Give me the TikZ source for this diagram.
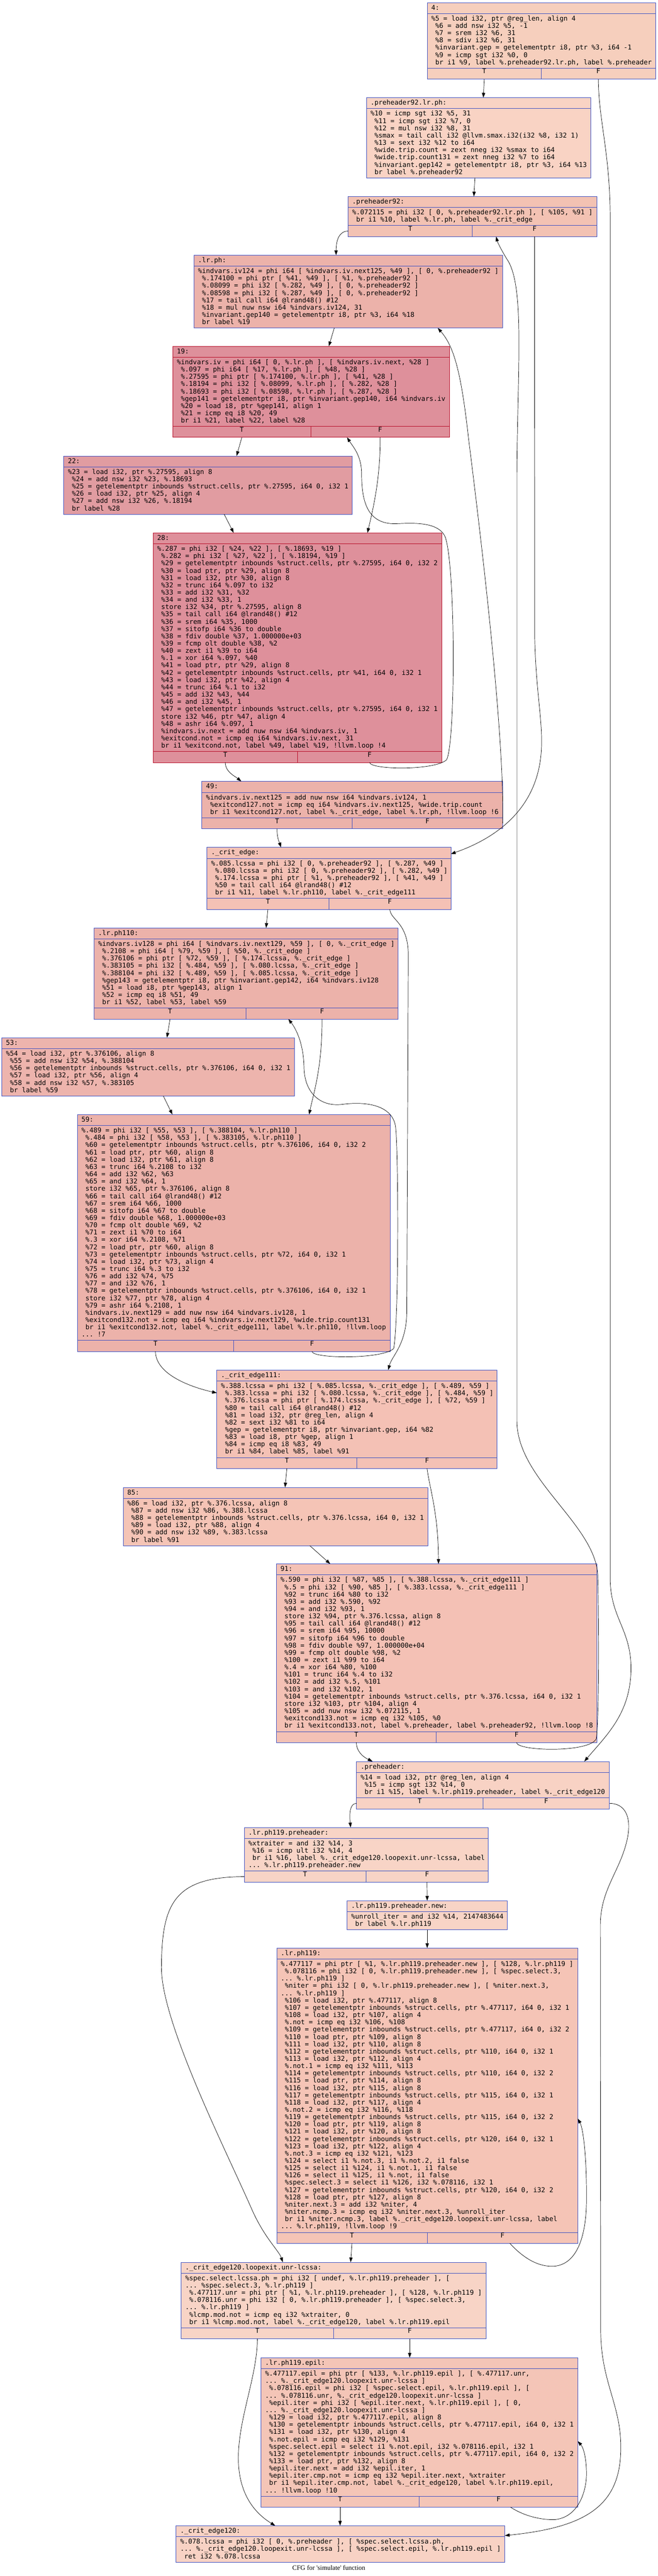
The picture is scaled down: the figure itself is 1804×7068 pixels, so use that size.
\documentclass[tikz,border=0pt]{standalone}
\usepackage{fontspec}
\newfontfamily\cfgmono{DejaVu Sans Mono}
\newfontfamily\cfgserif{Liberation Serif}
\usetikzlibrary{fit,calc,arrows.meta}

\newcommand{\cfgtab}[1]{\begin{tabular}[t]{@{}l@{}}#1\end{tabular}}

\definecolor{bl}{HTML}{3D50C3}
\definecolor{rd}{HTML}{B70D28}
\definecolor{cfour}{HTML}{F6CFBD}
\definecolor{cpretwo}{HTML}{F9D3C4}
\definecolor{cninetwo}{HTML}{F3C2B3}
\definecolor{clrph}{HTML}{ECB2AA}
\definecolor{chot}{HTML}{DE909B}
\definecolor{ctwotwo}{HTML}{E19CA1}
\definecolor{cedge}{HTML}{F4C1B5}
\definecolor{cfivethree}{HTML}{EDB4AD}
\definecolor{cfiveeight}{HTML}{F5C4B6}
\definecolor{cpre}{HTML}{F8D2C4}
\definecolor{clight}{HTML}{F8D4C6}
\definecolor{cepil}{HTML}{F4C5B7}

\begin{document}
\begin{tikzpicture}[
  x=0.5pt, y=-0.5pt,
  blk/.style={draw=bl, line width=0.6pt, inner sep=0pt, outer sep=0pt},
  hot/.style={draw=rd},
  hline/.style={draw=bl, line width=0.6pt},
  cell/.style={draw=bl, line width=0.6pt, inner sep=0pt, outer sep=0pt, font=\cfgmono\fontsize{9.13}{10}\selectfont},
  hd/.style={anchor=base west, inner sep=0pt, font=\cfgmono\fontsize{9.13}{10}\selectfont},
  code/.style={anchor=base west, inner sep=0pt, font=\cfgmono\fontsize{9.13}{10}\selectfont\frenchspacing},
  flow/.style={draw, line width=0.5pt, -{Triangle[length=6.5pt,width=4.5pt]}},
  ttl/.style={anchor=base, inner sep=0pt, font=\cfgserif\fontsize{9.13}{10}\selectfont}
]

\fill[white] (0,0) rectangle (1804,7068);

% Block 4
\node[blk, fill=cfour, fit={(1172,7) (1798,217)}] (b4) {};
\draw[hline] (1172,37) -- (1798,37);
\node[hd] (b4h) at (1183,27) {4:};
\node[code] (b4c) at (1183,57) {\cfgtab{\%5 = load i32, ptr @reg\_len, align 4\\
~\%6 = add nsw i32 \%5, -1\\
~\%7 = srem i32 \%6, 31\\
~\%8 = sdiv i32 \%6, 31\\
~\%invariant.gep = getelementptr i8, ptr \%3, i64 -1\\
~\%9 = icmp sgt i32 \%0, 0\\
~br i1 \%9, label \%.preheader92.lr.ph, label \%.preheader}};
\node[cell, fit={(1172,187) (1485,217)}] (b4t) {T};
\node[cell, fit={(1485,187) (1798,217)}] (b4f) {F};

% Block .preheader92.lr.ph
\node[blk, fill=cpretwo, fit={(1005,268) (1621,488)}] (b92lr) {};
\draw[hline] (1005,298) -- (1621,298);
\node[hd] (b92lrh) at (1016,288) {.preheader92.lr.ph:};
\node[code] (b92lrc) at (1016,318) {\cfgtab{\%10 = icmp sgt i32 \%5, 31\\
~\%11 = icmp sgt i32 \%7, 0\\
~\%12 = mul nsw i32 \%8, 31\\
~\%smax = tail call i32 @llvm.smax.i32(i32 \%8, i32 1)\\
~\%13 = sext i32 \%12 to i64\\
~\%wide.trip.count = zext nneg i32 \%smax to i64\\
~\%wide.trip.count131 = zext nneg i32 \%7 to i64\\
~\%invariant.gep142 = getelementptr i8, ptr \%3, i64 \%13\\
~br label \%.preheader92}};

% Block .preheader92
\node[blk, fill=cninetwo, fit={(955,539) (1637,649)}] (b92) {};
\draw[hline] (955,569) -- (1637,569);
\node[hd] (b92h) at (966,559) {.preheader92:};
\node[code] (b92c) at (966,589) {\cfgtab{\%.072115 = phi i32 [ 0, \%.preheader92.lr.ph ], [ \%105, \%91 ]\\
~br i1 \%10, label \%.lr.ph, label \%.\_crit\_edge}};
\node[cell, fit={(955,619) (1296,649)}] (b92t) {T};
\node[cell, fit={(1296,619) (1637,649)}] (b92f) {F};

% Block .lr.ph
\node[blk, fill=clrph, fit={(532,700) (1379,900)}] (blrph) {};
\draw[hline] (532,730) -- (1379,730);
\node[hd] (blrphh) at (543,720) {.lr.ph:};
\node[code] (blrphc) at (543,750) {\cfgtab{\%indvars.iv124 = phi i64 [ \%indvars.iv.next125, \%49 ], [ 0, \%.preheader92 ]\\
~\%.174100 = phi ptr [ \%41, \%49 ], [ \%1, \%.preheader92 ]\\
~\%.08099 = phi i32 [ \%.282, \%49 ], [ 0, \%.preheader92 ]\\
~\%.08598 = phi i32 [ \%.287, \%49 ], [ 0, \%.preheader92 ]\\
~\%17 = tail call i64 @lrand48() \#12\\
~\%18 = mul nuw nsw i64 \%indvars.iv124, 31\\
~\%invariant.gep140 = getelementptr i8, ptr \%3, i64 \%18\\
~br label \%19}};

% Block 19
\node[blk, hot, fill=chot, fit={(474,950) (1233,1200)}] (b19) {};
\draw[hline, hot] (474,980) -- (1233,980);
\node[hd] (b19h) at (485,970) {19:};
\node[code] (b19c) at (485,1000) {\cfgtab{\%indvars.iv = phi i64 [ 0, \%.lr.ph ], [ \%indvars.iv.next, \%28 ]\\
~\%.097 = phi i64 [ \%17, \%.lr.ph ], [ \%48, \%28 ]\\
~\%.27595 = phi ptr [ \%.174100, \%.lr.ph ], [ \%41, \%28 ]\\
~\%.18194 = phi i32 [ \%.08099, \%.lr.ph ], [ \%.282, \%28 ]\\
~\%.18693 = phi i32 [ \%.08598, \%.lr.ph ], [ \%.287, \%28 ]\\
~\%gep141 = getelementptr i8, ptr \%invariant.gep140, i64 \%indvars.iv\\
~\%20 = load i8, ptr \%gep141, align 1\\
~\%21 = icmp eq i8 \%20, 49\\
~br i1 \%21, label \%22, label \%28}};
\node[cell, hot, fit={(474,1170) (853,1200)}] (b19t) {T};
\node[cell, hot, fit={(853,1170) (1233,1200)}] (b19f) {F};

% Block 22
\node[blk, fill=ctwotwo, fit={(175,1251) (966,1411)}] (b22) {};
\draw[hline] (175,1281) -- (966,1281);
\node[hd] (b22h) at (186,1271) {22:};
\node[code] (b22c) at (186,1301) {\cfgtab{\%23 = load i32, ptr \%.27595, align 8\\
~\%24 = add nsw i32 \%23, \%.18693\\
~\%25 = getelementptr inbounds \%struct.cells, ptr \%.27595, i64 0, i32 1\\
~\%26 = load i32, ptr \%25, align 4\\
~\%27 = add nsw i32 \%26, \%.18194\\
~br label \%28}};

% Block 28
\node[blk, hot, fill=chot, fit={(420,1462) (1212,2092)}] (b28) {};
\draw[hline, hot] (420,1492) -- (1212,1492);
\node[hd] (b28h) at (431,1482) {28:};
\node[code] (b28c) at (431,1512) {\cfgtab{\%.287 = phi i32 [ \%24, \%22 ], [ \%.18693, \%19 ]\\
~\%.282 = phi i32 [ \%27, \%22 ], [ \%.18194, \%19 ]\\
~\%29 = getelementptr inbounds \%struct.cells, ptr \%.27595, i64 0, i32 2\\
~\%30 = load ptr, ptr \%29, align 8\\
~\%31 = load i32, ptr \%30, align 8\\
~\%32 = trunc i64 \%.097 to i32\\
~\%33 = add i32 \%31, \%32\\
~\%34 = and i32 \%33, 1\\
~store i32 \%34, ptr \%.27595, align 8\\
~\%35 = tail call i64 @lrand48() \#12\\
~\%36 = srem i64 \%35, 1000\\
~\%37 = sitofp i64 \%36 to double\\
~\%38 = fdiv double \%37, 1.000000e+03\\
~\%39 = fcmp olt double \%38, \%2\\
~\%40 = zext i1 \%39 to i64\\
~\%.1 = xor i64 \%.097, \%40\\
~\%41 = load ptr, ptr \%29, align 8\\
~\%42 = getelementptr inbounds \%struct.cells, ptr \%41, i64 0, i32 1\\
~\%43 = load i32, ptr \%42, align 4\\
~\%44 = trunc i64 \%.1 to i32\\
~\%45 = add i32 \%43, \%44\\
~\%46 = and i32 \%45, 1\\
~\%47 = getelementptr inbounds \%struct.cells, ptr \%.27595, i64 0, i32 1\\
~store i32 \%46, ptr \%47, align 4\\
~\%48 = ashr i64 \%.097, 1\\
~\%indvars.iv.next = add nuw nsw i64 \%indvars.iv, 1\\
~\%exitcond.not = icmp eq i64 \%indvars.iv.next, 31\\
~br i1 \%exitcond.not, label \%49, label \%19, !llvm.loop !4}};
\node[cell, hot, fit={(420,2062) (816,2092)}] (b28t) {T};
\node[cell, hot, fit={(816,2062) (1212,2092)}] (b28f) {F};

% Block 49
\node[blk, fill=clrph, fit={(554,2144) (1379,2274)}] (b49) {};
\draw[hline] (554,2174) -- (1379,2174);
\node[hd] (b49h) at (565,2164) {49:};
\node[code] (b49c) at (565,2194) {\cfgtab{\%indvars.iv.next125 = add nuw nsw i64 \%indvars.iv124, 1\\
~\%exitcond127.not = icmp eq i64 \%indvars.iv.next125, \%wide.trip.count\\
~br i1 \%exitcond127.not, label \%.\_crit\_edge, label \%.lr.ph, !llvm.loop !6}};
\node[cell, fit={(554,2244) (966,2274)}] (b49t) {T};
\node[cell, fit={(966,2244) (1379,2274)}] (b49f) {F};

% Block ._crit_edge
\node[blk, fill=cedge, fit={(568,2325) (1237,2495)}] (bce) {};
\draw[hline] (568,2355) -- (1237,2355);
\node[hd] (bceh) at (579,2345) {.\_crit\_edge:};
\node[code] (bcec) at (579,2375) {\cfgtab{\%.085.lcssa = phi i32 [ 0, \%.preheader92 ], [ \%.287, \%49 ]\\
~\%.080.lcssa = phi i32 [ 0, \%.preheader92 ], [ \%.282, \%49 ]\\
~\%.174.lcssa = phi ptr [ \%1, \%.preheader92 ], [ \%41, \%49 ]\\
~\%50 = tail call i64 @lrand48() \#12\\
~br i1 \%11, label \%.lr.ph110, label \%.\_crit\_edge111}};
\node[cell, fit={(568,2465) (902,2495)}] (bcet) {T};
\node[cell, fit={(902,2465) (1237,2495)}] (bcef) {F};

% Block .lr.ph110
\node[blk, fill=clrph, fit={(258,2546) (1092,2796)}] (blr110) {};
\draw[hline] (258,2576) -- (1092,2576);
\node[hd] (blr110h) at (269,2566) {.lr.ph110:};
\node[code] (blr110c) at (269,2596) {\cfgtab{\%indvars.iv128 = phi i64 [ \%indvars.iv.next129, \%59 ], [ 0, \%.\_crit\_edge ]\\
~\%.2108 = phi i64 [ \%79, \%59 ], [ \%50, \%.\_crit\_edge ]\\
~\%.376106 = phi ptr [ \%72, \%59 ], [ \%.174.lcssa, \%.\_crit\_edge ]\\
~\%.383105 = phi i32 [ \%.484, \%59 ], [ \%.080.lcssa, \%.\_crit\_edge ]\\
~\%.388104 = phi i32 [ \%.489, \%59 ], [ \%.085.lcssa, \%.\_crit\_edge ]\\
~\%gep143 = getelementptr i8, ptr \%invariant.gep142, i64 \%indvars.iv128\\
~\%51 = load i8, ptr \%gep143, align 1\\
~\%52 = icmp eq i8 \%51, 49\\
~br i1 \%52, label \%53, label \%59}};
\node[cell, fit={(258,2766) (675,2796)}] (blr110t) {T};
\node[cell, fit={(675,2766) (1092,2796)}] (blr110f) {F};

% Block 53
\node[blk, fill=cfivethree, fit={(5,2847) (808,3007)}] (b53) {};
\draw[hline] (5,2877) -- (808,2877);
\node[hd] (b53h) at (16,2867) {53:};
\node[code] (b53c) at (16,2897) {\cfgtab{\%54 = load i32, ptr \%.376106, align 8\\
~\%55 = add nsw i32 \%54, \%.388104\\
~\%56 = getelementptr inbounds \%struct.cells, ptr \%.376106, i64 0, i32 1\\
~\%57 = load i32, ptr \%56, align 4\\
~\%58 = add nsw i32 \%57, \%.383105\\
~br label \%59}};

% Block 59
\node[blk, fill=clrph, fit={(212,3058) (1071,3708)}] (b59) {};
\draw[hline] (212,3088) -- (1071,3088);
\node[hd] (b59h) at (223,3078) {59:};
\node[code] (b59c) at (223,3108) {\cfgtab{\%.489 = phi i32 [ \%55, \%53 ], [ \%.388104, \%.lr.ph110 ]\\
~\%.484 = phi i32 [ \%58, \%53 ], [ \%.383105, \%.lr.ph110 ]\\
~\%60 = getelementptr inbounds \%struct.cells, ptr \%.376106, i64 0, i32 2\\
~\%61 = load ptr, ptr \%60, align 8\\
~\%62 = load i32, ptr \%61, align 8\\
~\%63 = trunc i64 \%.2108 to i32\\
~\%64 = add i32 \%62, \%63\\
~\%65 = and i32 \%64, 1\\
~store i32 \%65, ptr \%.376106, align 8\\
~\%66 = tail call i64 @lrand48() \#12\\
~\%67 = srem i64 \%66, 1000\\
~\%68 = sitofp i64 \%67 to double\\
~\%69 = fdiv double \%68, 1.000000e+03\\
~\%70 = fcmp olt double \%69, \%2\\
~\%71 = zext i1 \%70 to i64\\
~\%.3 = xor i64 \%.2108, \%71\\
~\%72 = load ptr, ptr \%60, align 8\\
~\%73 = getelementptr inbounds \%struct.cells, ptr \%72, i64 0, i32 1\\
~\%74 = load i32, ptr \%73, align 4\\
~\%75 = trunc i64 \%.3 to i32\\
~\%76 = add i32 \%74, \%75\\
~\%77 = and i32 \%76, 1\\
~\%78 = getelementptr inbounds \%struct.cells, ptr \%.376106, i64 0, i32 1\\
~store i32 \%77, ptr \%78, align 4\\
~\%79 = ashr i64 \%.2108, 1\\
~\%indvars.iv.next129 = add nuw nsw i64 \%indvars.iv128, 1\\
~\%exitcond132.not = icmp eq i64 \%indvars.iv.next129, \%wide.trip.count131\\
~br i1 \%exitcond132.not, label \%.\_crit\_edge111, label \%.lr.ph110, !llvm.loop\\
... !7}};
\node[cell, fit={(212,3678) (641,3708)}] (b59t) {T};
\node[cell, fit={(641,3678) (1071,3708)}] (b59f) {F};

% Block ._crit_edge111
\node[blk, fill=cedge, fit={(595,3759) (1364,4029)}] (bce111) {};
\draw[hline] (595,3789) -- (1364,3789);
\node[hd] (bce111h) at (606,3779) {.\_crit\_edge111:};
\node[code] (bce111c) at (606,3809) {\cfgtab{\%.388.lcssa = phi i32 [ \%.085.lcssa, \%.\_crit\_edge ], [ \%.489, \%59 ]\\
~\%.383.lcssa = phi i32 [ \%.080.lcssa, \%.\_crit\_edge ], [ \%.484, \%59 ]\\
~\%.376.lcssa = phi ptr [ \%.174.lcssa, \%.\_crit\_edge ], [ \%72, \%59 ]\\
~\%80 = tail call i64 @lrand48() \#12\\
~\%81 = load i32, ptr @reg\_len, align 4\\
~\%82 = sext i32 \%81 to i64\\
~\%gep = getelementptr i8, ptr \%invariant.gep, i64 \%82\\
~\%83 = load i8, ptr \%gep, align 1\\
~\%84 = icmp eq i8 \%83, 49\\
~br i1 \%84, label \%85, label \%91}};
\node[cell, fit={(595,3999) (979,4029)}] (bce111t) {T};
\node[cell, fit={(979,3999) (1364,4029)}] (bce111f) {F};

% Block 85
\node[blk, fill=cfiveeight, fit={(338,4081) (1174,4241)}] (b85) {};
\draw[hline] (338,4111) -- (1174,4111);
\node[hd] (b85h) at (349,4101) {85:};
\node[code] (b85c) at (349,4131) {\cfgtab{\%86 = load i32, ptr \%.376.lcssa, align 8\\
~\%87 = add nsw i32 \%86, \%.388.lcssa\\
~\%88 = getelementptr inbounds \%struct.cells, ptr \%.376.lcssa, i64 0, i32 1\\
~\%89 = load i32, ptr \%88, align 4\\
~\%90 = add nsw i32 \%89, \%.383.lcssa\\
~br label \%91}};

% Block 91
\node[blk, fill=cedge, fit={(758,4291) (1637,4781)}] (b91) {};
\draw[hline] (758,4321) -- (1637,4321);
\node[hd] (b91h) at (769,4311) {91:};
\node[code] (b91c) at (769,4341) {\cfgtab{\%.590 = phi i32 [ \%87, \%85 ], [ \%.388.lcssa, \%.\_crit\_edge111 ]\\
~\%.5 = phi i32 [ \%90, \%85 ], [ \%.383.lcssa, \%.\_crit\_edge111 ]\\
~\%92 = trunc i64 \%80 to i32\\
~\%93 = add i32 \%.590, \%92\\
~\%94 = and i32 \%93, 1\\
~store i32 \%94, ptr \%.376.lcssa, align 8\\
~\%95 = tail call i64 @lrand48() \#12\\
~\%96 = srem i64 \%95, 10000\\
~\%97 = sitofp i64 \%96 to double\\
~\%98 = fdiv double \%97, 1.000000e+04\\
~\%99 = fcmp olt double \%98, \%2\\
~\%100 = zext i1 \%99 to i64\\
~\%.4 = xor i64 \%80, \%100\\
~\%101 = trunc i64 \%.4 to i32\\
~\%102 = add i32 \%.5, \%101\\
~\%103 = and i32 \%102, 1\\
~\%104 = getelementptr inbounds \%struct.cells, ptr \%.376.lcssa, i64 0, i32 1\\
~store i32 \%103, ptr \%104, align 4\\
~\%105 = add nuw nsw i32 \%.072115, 1\\
~\%exitcond133.not = icmp eq i32 \%105, \%0\\
~br i1 \%exitcond133.not, label \%.preheader, label \%.preheader92, !llvm.loop !8}};
\node[cell, fit={(758,4751) (1197,4781)}] (b91t) {T};
\node[cell, fit={(1197,4751) (1637,4781)}] (b91f) {F};

% Block .preheader
\node[blk, fill=cpre, fit={(978,4833) (1672,4963)}] (bpre) {};
\draw[hline] (978,4863) -- (1672,4863);
\node[hd] (bpreh) at (989,4853) {.preheader:};
\node[code] (bprec) at (989,4883) {\cfgtab{\%14 = load i32, ptr @reg\_len, align 4\\
~\%15 = icmp sgt i32 \%14, 0\\
~br i1 \%15, label \%.lr.ph119.preheader, label \%.\_crit\_edge120}};
\node[cell, fit={(978,4933) (1325,4963)}] (bpret) {T};
\node[cell, fit={(1325,4933) (1672,4963)}] (bpref) {F};

% Block .lr.ph119.preheader
\node[blk, fill=clight, fit={(670,5014) (1339,5164)}] (b119pre) {};
\draw[hline] (670,5044) -- (1339,5044);
\node[hd] (b119preh) at (681,5034) {.lr.ph119.preheader:};
\node[code] (b119prec) at (681,5064) {\cfgtab{\%xtraiter = and i32 \%14, 3\\
~\%16 = icmp ult i32 \%14, 4\\
~br i1 \%16, label \%.\_crit\_edge120.loopexit.unr-lcssa, label\\
... \%.lr.ph119.preheader.new}};
\node[cell, fit={(670,5134) (1004,5164)}] (b119pret) {T};
\node[cell, fit={(1004,5134) (1339,5164)}] (b119pref) {F};

% Block .lr.ph119.preheader.new
\node[blk, fill=clight, fit={(952,5215) (1392,5295)}] (b119new) {};
\draw[hline] (952,5245) -- (1392,5245);
\node[hd] (b119newh) at (963,5235) {.lr.ph119.preheader.new:};
\node[code] (b119newc) at (963,5265) {\cfgtab{\%unroll\_iter = and i32 \%14, 2147483644\\
~br label \%.lr.ph119}};

% Block .lr.ph119
\node[blk, fill=cfiveeight, fit={(759,5345) (1585,6155)}] (b119) {};
\draw[hline] (759,5375) -- (1585,5375);
\node[hd] (b119h) at (770,5365) {.lr.ph119:};
\node[code] (b119c) at (770,5395) {\cfgtab{\%.477117 = phi ptr [ \%1, \%.lr.ph119.preheader.new ], [ \%128, \%.lr.ph119 ]\\
~\%.078116 = phi i32 [ 0, \%.lr.ph119.preheader.new ], [ \%spec.select.3,\\
... \%.lr.ph119 ]\\
~\%niter = phi i32 [ 0, \%.lr.ph119.preheader.new ], [ \%niter.next.3,\\
... \%.lr.ph119 ]\\
~\%106 = load i32, ptr \%.477117, align 8\\
~\%107 = getelementptr inbounds \%struct.cells, ptr \%.477117, i64 0, i32 1\\
~\%108 = load i32, ptr \%107, align 4\\
~\%.not = icmp eq i32 \%106, \%108\\
~\%109 = getelementptr inbounds \%struct.cells, ptr \%.477117, i64 0, i32 2\\
~\%110 = load ptr, ptr \%109, align 8\\
~\%111 = load i32, ptr \%110, align 8\\
~\%112 = getelementptr inbounds \%struct.cells, ptr \%110, i64 0, i32 1\\
~\%113 = load i32, ptr \%112, align 4\\
~\%.not.1 = icmp eq i32 \%111, \%113\\
~\%114 = getelementptr inbounds \%struct.cells, ptr \%110, i64 0, i32 2\\
~\%115 = load ptr, ptr \%114, align 8\\
~\%116 = load i32, ptr \%115, align 8\\
~\%117 = getelementptr inbounds \%struct.cells, ptr \%115, i64 0, i32 1\\
~\%118 = load i32, ptr \%117, align 4\\
~\%.not.2 = icmp eq i32 \%116, \%118\\
~\%119 = getelementptr inbounds \%struct.cells, ptr \%115, i64 0, i32 2\\
~\%120 = load ptr, ptr \%119, align 8\\
~\%121 = load i32, ptr \%120, align 8\\
~\%122 = getelementptr inbounds \%struct.cells, ptr \%120, i64 0, i32 1\\
~\%123 = load i32, ptr \%122, align 4\\
~\%.not.3 = icmp eq i32 \%121, \%123\\
~\%124 = select i1 \%.not.3, i1 \%.not.2, i1 false\\
~\%125 = select i1 \%124, i1 \%.not.1, i1 false\\
~\%126 = select i1 \%125, i1 \%.not, i1 false\\
~\%spec.select.3 = select i1 \%126, i32 \%.078116, i32 1\\
~\%127 = getelementptr inbounds \%struct.cells, ptr \%120, i64 0, i32 2\\
~\%128 = load ptr, ptr \%127, align 8\\
~\%niter.next.3 = add i32 \%niter, 4\\
~\%niter.ncmp.3 = icmp eq i32 \%niter.next.3, \%unroll\_iter\\
~br i1 \%niter.ncmp.3, label \%.\_crit\_edge120.loopexit.unr-lcssa, label\\
... \%.lr.ph119, !llvm.loop !9}};
\node[cell, fit={(759,6125) (1172,6155)}] (b119t) {T};
\node[cell, fit={(1172,6125) (1585,6155)}] (b119f) {F};

% Block ._crit_edge120.loopexit.unr-lcssa
\node[blk, fill=clight, fit={(497,6207) (1333,6417)}] (bunr) {};
\draw[hline] (497,6237) -- (1333,6237);
\node[hd] (bunrh) at (508,6227) {.\_crit\_edge120.loopexit.unr-lcssa:};
\node[code] (bunrc) at (508,6257) {\cfgtab{\%spec.select.lcssa.ph = phi i32 [ undef, \%.lr.ph119.preheader ], [\\
... \%spec.select.3, \%.lr.ph119 ]\\
~\%.477117.unr = phi ptr [ \%1, \%.lr.ph119.preheader ], [ \%128, \%.lr.ph119 ]\\
~\%.078116.unr = phi i32 [ 0, \%.lr.ph119.preheader ], [ \%spec.select.3,\\
... \%.lr.ph119 ]\\
~\%lcmp.mod.not = icmp eq i32 \%xtraiter, 0\\
~br i1 \%lcmp.mod.not, label \%.\_crit\_edge120, label \%.lr.ph119.epil}};
\node[cell, fit={(497,6387) (915,6417)}] (bunrt) {T};
\node[cell, fit={(915,6387) (1333,6417)}] (bunrf) {F};

% Block .lr.ph119.epil
\node[blk, fill=cepil, fit={(716,6469) (1585,6879)}] (bepil) {};
\draw[hline] (716,6499) -- (1585,6499);
\node[hd] (bepilh) at (727,6489) {.lr.ph119.epil:};
\node[code] (bepilc) at (727,6519) {\cfgtab{\%.477117.epil = phi ptr [ \%133, \%.lr.ph119.epil ], [ \%.477117.unr,\\
... \%.\_crit\_edge120.loopexit.unr-lcssa ]\\
~\%.078116.epil = phi i32 [ \%spec.select.epil, \%.lr.ph119.epil ], [\\
... \%.078116.unr, \%.\_crit\_edge120.loopexit.unr-lcssa ]\\
~\%epil.iter = phi i32 [ \%epil.iter.next, \%.lr.ph119.epil ], [ 0,\\
... \%.\_crit\_edge120.loopexit.unr-lcssa ]\\
~\%129 = load i32, ptr \%.477117.epil, align 8\\
~\%130 = getelementptr inbounds \%struct.cells, ptr \%.477117.epil, i64 0, i32 1\\
~\%131 = load i32, ptr \%130, align 4\\
~\%.not.epil = icmp eq i32 \%129, \%131\\
~\%spec.select.epil = select i1 \%.not.epil, i32 \%.078116.epil, i32 1\\
~\%132 = getelementptr inbounds \%struct.cells, ptr \%.477117.epil, i64 0, i32 2\\
~\%133 = load ptr, ptr \%132, align 8\\
~\%epil.iter.next = add i32 \%epil.iter, 1\\
~\%epil.iter.cmp.not = icmp eq i32 \%epil.iter.next, \%xtraiter\\
~br i1 \%epil.iter.cmp.not, label \%.\_crit\_edge120, label \%.lr.ph119.epil,\\
... !llvm.loop !10}};
\node[cell, fit={(716,6849) (1150,6879)}] (bepilt) {T};
\node[cell, fit={(1150,6849) (1585,6879)}] (bepilf) {F};

% Block ._crit_edge120
\node[blk, fill=cpre, fit={(483,6930) (1385,7030)}] (bce120) {};
\draw[hline] (483,6960) -- (1385,6960);
\node[hd] (bce120h) at (494,6950) {.\_crit\_edge120:};
\node[code] (bce120c) at (494,6980) {\cfgtab{\%.078.lcssa = phi i32 [ 0, \%.preheader ], [ \%spec.select.lcssa.ph,\\
... \%.\_crit\_edge120.loopexit.unr-lcssa ], [ \%spec.select.epil, \%.lr.ph119.epil ]\\
~ret i32 \%.078.lcssa}};

% Title
\node[ttl] (title) at (902,7052) {CFG for 'simulate' function};

% Edges
\draw[flow] (b4t.south) -- ($(b92lr.north west)+(321,0)$);
\draw[flow] (b4f.south) .. controls (1642,330) and (1674,420) .. (1674,600) -- (1674,4330)
  .. controls (1674,4440) and (1732,4470) .. (1731,4580)
  .. controls (1730,4700) and (1665,4760) .. ($(bpre.north east)+(-69,0)$);
\draw[flow] ($(b92lr.south west)+(298,0)$) -- ($(b92.north west)+(345,0)$);
\draw[flow] (b92t.west) .. controls (930,634) and (922,660) .. ($(blrph.north west)+(390,0)$);
\draw[flow] (b92f.south) -- (1467,1750) .. controls (1470,1900) and (1490,1980) .. (1485,2060)
  .. controls (1475,2220) and (1360,2300) .. ($(bce.north east)+(0,18)$);
\draw[flow] ($(blrph.south west)+(385,0)$) -- ($(b19.north west)+(428,0)$);
\draw[flow] (b49f.east) .. controls (1385,2000) and (1310,1400) .. (1285,1200)
  .. controls (1265,1020) and (1245,950) .. ($(blrph.south west)+(669,0)$);
\draw[flow] (b19t.south) -- ($(b22.north west)+(474,0)$);
\draw[flow] (b19f.south) .. controls (1043,1300) and (1030,1370) .. ($(b28.north west)+(588,0)$);
\draw[flow] ($(b22.south west)+(440,0)$) -- ($(b28.north west)+(221,0)$);
\draw[flow] (b28t.south) .. controls (618,2118) and (645,2130) .. ($(b49.north west)+(108,0)$);
\draw[flow] (b28f.south) .. controls (1016,2112) and (1190,2115) .. (1225,2085)
  .. controls (1250,2040) and (1250,1560) .. (1222,1475)
  .. controls (1205,1430) and (1130,1435) .. (1085,1437)
  .. controls (1010,1438) and (992,1380) .. (992,1300)
  .. controls (992,1250) and (968,1225) .. ($(b19.south west)+(478,0)$);
\draw[flow] (b49t.south) .. controls (760,2300) and (766,2310) .. ($(bce.north west)+(203,0)$);
\draw[flow] (bcet.south) -- ($(blr110.north west)+(472,0)$);
\draw[flow] (bcef.south) .. controls (1071,2525) and (1120,2530) .. (1120,2620) -- (1116,3600)
  .. controls (1115,3690) and (1075,3720) .. ($(bce111.north west)+(470,0)$);
\draw[flow] (blr110t.south) -- ($(b53.north west)+(453,0)$);
\draw[flow] (blr110f.south) .. controls (884,2930) and (860,3000) .. ($(b59.north west)+(636,0)$);
\draw[flow] ($(b53.south west)+(443,0)$) -- ($(b59.north west)+(261,0)$);
\draw[flow] (b59f.south) .. controls (857,3728) and (1050,3730) .. (1080,3700)
  .. controls (1095,3620) and (1093,3150) .. (1085,3090)
  .. controls (1075,3030) and (1000,3022) .. (940,3030)
  .. controls (880,3038) and (836,3000) .. (834,2930)
  .. controls (833,2860) and (810,2820) .. ($(blr110.south west)+(533,0)$);
\draw[flow] (b59t.south) .. controls (427,3770) and (520,3805) .. ($(bce111.north west)+(0,63)$);
\draw[flow] (b91f.south) .. controls (1418,4805) and (1620,4810) .. (1636,4770)
  .. controls (1645,4700) and (1642,4400) .. (1640,4320)
  .. controls (1630,4180) and (1420,4060) .. (1418,3900) -- (1418,1300)
  .. controls (1420,1000) and (1440,780) .. (1390,710)
  .. controls (1375,685) and (1365,665) .. ($(b92.south west)+(406,0)$);
\draw[flow] (bce111t.south) -- ($(b85.north west)+(444,0)$);
\draw[flow] (bce111f.south) .. controls (1180,4090) and (1202,4150) .. ($(b91.north west)+(445,0)$);
\draw[flow] ($(b85.south west)+(512,0)$) -- ($(b91.north west)+(148,0)$);
\draw[flow] (b91t.south) .. controls (978,4805) and (995,4820) .. ($(bpre.north west)+(44,0)$);
\draw[flow] (bpret.west) .. controls (960,4948) and (958,4975) .. ($(b119pre.north west)+(292,0)$);
\draw[flow] (bpref.east) .. controls (1715,4948) and (1732,4985) .. (1722,5040)
  .. controls (1705,5130) and (1648,5180) .. (1647,5280) -- (1648,6400)
  .. controls (1650,6540) and (1705,6600) .. (1703,6720)
  .. controls (1702,6880) and (1600,6935) .. ($(bce120.north east)+(0,27)$);
\draw[flow] (b119pret.west) .. controls (480,5150) and (443,5220) .. (443,5400)
  .. controls (443,5550) and (620,5900) .. (690,6060)
  .. controls (725,6140) and (765,6175) .. ($(bunr.north west)+(279,0)$);
\draw[flow] (b119pref.south) -- (b119new.north);
\draw[flow] (b119new.south) -- (b119.north);
\draw[flow] (b119t.south) -- ($(bunr.north west)+(465,0)$);
\draw[flow] ($(b119f.south)+(20,0)$) .. controls (1440,6200) and (1480,6220) .. (1520,6218)
  .. controls (1590,6212) and (1608,6120) .. (1609,6040)
  .. controls (1610,5920) and (1600,5840) .. ($(b119.north east)+(0,468)$);
\draw[flow] (bunrt.south) .. controls (706,6520) and (652,6640) .. (654,6750)
  .. controls (656,6860) and (715,6905) .. ($(bce120.north west)+(272,0)$);
\draw[flow] (bunrf.south) -- ($(bepil.north west)+(408,0)$);
\draw[flow] (bepilt.south) -- ($(bce120.north west)+(450,0)$);
\draw[flow] ($(bepilf.south)+(33,0)$) .. controls (1440,6905) and (1490,6915) .. (1524,6913)
  .. controls (1590,6905) and (1610,6830) .. (1609,6783)
  .. controls (1608,6740) and (1600,6715) .. ($(bepil.north east)+(0,229)$);

\end{tikzpicture}
\end{document}
